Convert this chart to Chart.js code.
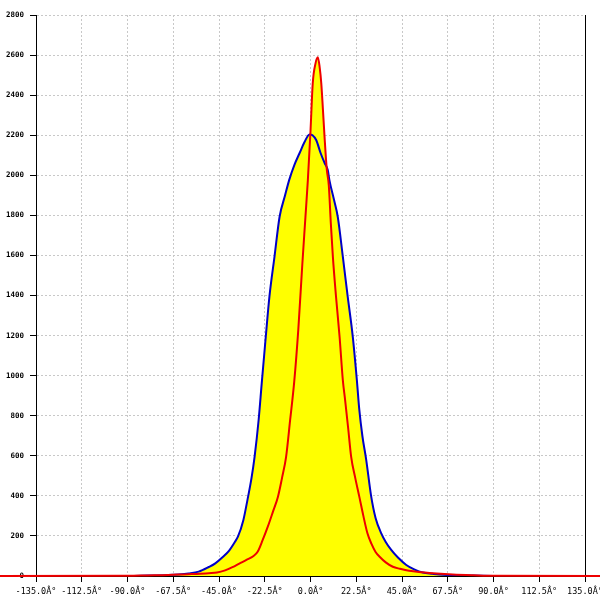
<!DOCTYPE html>
<html>
<head>
<meta charset="utf-8">
<script src="https://cdn.jsdelivr.net/npm/chart.js@4"></script>
<style>
    html, body { margin: 0; padding: 0; background: #fff; }
    #wrap { width: 600px; height: 600px; }
</style>
</head>
<body>
<div id="wrap"><canvas id="angle-plot"></canvas></div>
<script>
// Angle distribution, two series

const redAngles = [-180, -90, -80, -70, -60, -56, -50, -46, -42, -38, -35, -31.5, -28, -26, -23.5, -21, -18.5, -16, -14, -12, -10, -8, -6, -4, -2.5, -1.3, 0, 1.1, 2.5, 3.6, 4.5, 5.3, 6.1, 6.9, 8, 9, 10, 11, 12.5, 14.3, 15.9, 17, 18.5, 20, 22, 24, 26, 28, 30, 32, 34, 37, 40.5, 44, 48.5, 55, 62, 70, 80, 90, 180];
const redCounts = [0, 1, 3, 5, 9, 10, 14, 17, 28, 46, 62, 80, 100, 121, 180, 246, 320, 396, 490, 595, 780, 970, 1230, 1560, 1790, 1976, 2220, 2459, 2560, 2589, 2540, 2459, 2330, 2193, 2030, 1950, 1760, 1594, 1400, 1194, 978, 880, 740, 595, 490, 396, 300, 213, 160, 120, 96, 68, 46, 36, 26, 19, 13, 8, 4, 1, 0];

const blueAngles = [-90, -80, -70, -65, -60, -55, -50, -47, -43, -40, -37.5, -35.7, -33, -31, -29, -27.5, -25.5, -24, -22, -20.2, -17.7, -15.2, -12.5, -10.5, -8, -5.4, -3, -0.5, 1, 2.8, 5, 7, 8.5, 9.3, 11.5, 13.4, 15.9, 18.3, 20.8, 22.8, 24, 25.5, 27.4, 29.8, 32, 34.8, 37, 39.7, 43, 47.1, 51, 55.2, 60, 65, 70, 80, 90];
const blueCounts = [0, 2, 5, 8, 13, 22, 45, 62, 96, 127, 165, 196, 280, 380, 490, 595, 780, 960, 1194, 1394, 1594, 1793, 1900, 1976, 2050, 2110, 2165, 2204, 2200, 2176, 2110, 2060, 2026, 1976, 1880, 1793, 1594, 1394, 1194, 978, 830, 700, 580, 400, 290, 213, 170, 130, 92, 55, 33, 17, 11, 6, 4, 2, 0];

const xMin = -135, xMax = 135, xStep = 22.5;
const yMin = 0, yMax = 2800, yStep = 200;

function toPoints(xs, ys) {
    return xs.map((x, i) => ({ x: x, y: ys[i] }));
}

const gridColor = "#c8c8c8";

let chart = new Chart("angle-plot", {
    type: "line",
    data: {
        datasets: [
            {
                data: toPoints(redAngles, redCounts),
                borderColor: "#ee0000",
                borderWidth: 2,
                backgroundColor: "#ffff00",
                fill: "origin",
                pointRadius: 0,
                cubicInterpolationMode: "monotone",
                clip: false,
            },
            {
                data: toPoints(blueAngles, blueCounts),
                borderColor: "#0000c8",
                borderWidth: 2,
                backgroundColor: "#ffff00",
                fill: "origin",
                pointRadius: 0,
                cubicInterpolationMode: "monotone",
            },
        ],
    },
    options: {
        responsive: true,
        maintainAspectRatio: false,
        animation: false,
        layout: { padding: { top: 15, left: 0, right: 0, bottom: 0 } },
        plugins: {
            legend: { display: false },
            tooltip: { enabled: false },
            filler: { drawTime: "beforeDatasetsDraw" },
        },
        scales: {
            x: {
                type: "linear",
                min: xMin,
                max: xMax,
                grid: { color: gridColor, tickColor: "#000", tickLength: 6 },
                border: { display: true, color: "#000", width: 1, dash: [2, 2] },
                ticks: {
                    stepSize: xStep,
                    autoSkip: false,
                    maxRotation: 0,
                    padding: 5,
                    color: "#000",
                    font: { family: "DejaVu Sans Mono", size: 8.5 },
                    callback: v => v.toFixed(1) + "Â°",
                },
                afterFit: s => {
                    s.height = 24;
                    s.paddingLeft = 0;
                    s.paddingRight = 0;
                },
            },
            y: {
                min: yMin,
                max: yMax,
                grid: { color: gridColor, tickColor: "#000", tickLength: 6 },
                border: { display: true, color: "#000", width: 1, dash: [2, 2] },
                ticks: {
                    stepSize: yStep,
                    padding: 6,
                    color: "#000",
                    font: { family: "DejaVu Sans Mono", size: 7.5, weight: "bold" },
                    callback: v => String(v),
                },
                afterFit: s => {
                    s.width = 36;
                    s.paddingTop = 0;
                    s.paddingBottom = 0;
                },
            },
            y2: {
                position: "right",
                min: yMin,
                max: yMax,
                grid: { drawOnChartArea: false, drawTicks: false },
                border: { display: true, color: "#000", width: 1 },
                ticks: { display: false },
                afterFit: s => {
                    s.width = 15;
                    s.paddingTop = 0;
                    s.paddingBottom = 0;
                },
            },
        },
    },
});
</script>
</body>
</html>
